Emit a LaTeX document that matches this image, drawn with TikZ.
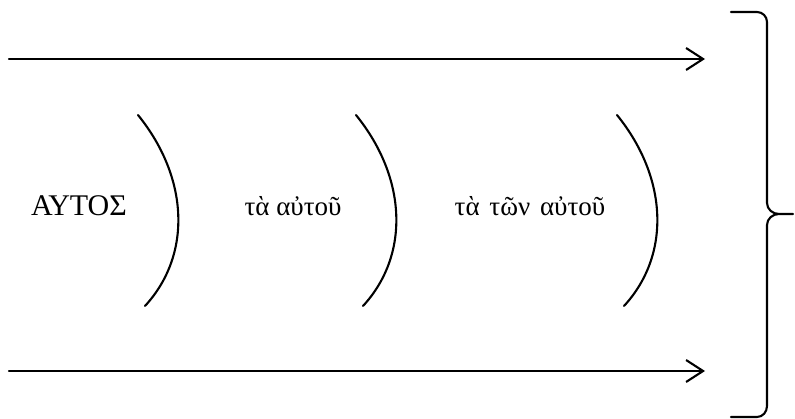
\documentclass[tikz,border=0pt]{standalone}
\usepackage{fontspec}
\setmainfont{Liberation Serif}
\usetikzlibrary{arrows.meta}
\begin{document}
\begin{tikzpicture}[x=1pt,y=-1pt,
  line/.style={line width=2.1pt,line cap=round,line join=round},
  arr/.style={line,-{Straight Barb[length=17pt,width=22pt,line width=2.1pt]}},
  lbl/.style={anchor=base,inner sep=0pt,font=\fontsize{27}{32}\selectfont}]
\useasboundingbox (0,0) rectangle (795,419);
% arrows
\coordinate (t1) at (9,59);
\coordinate (t2) at (705,59);
\coordinate (b1) at (9,371);
\coordinate (b2) at (705,371);
\draw[arr] (t1) -- (t2);
\draw[arr] (b1) -- (b2);
% labels
\node[lbl,font=\fontsize{30}{34}\selectfont] (autos) at (79,216) {ΑΥΤΟΣ};
\node[lbl] (ta) at (293,216) {τὰ αὐτοῦ};
\node[lbl] (taton) at (530,216) {τὰ\hspace{3pt} τῶν\hspace{3pt} αὐτοῦ};
% parentheses
\draw[line] (138,115) .. controls (189,178) and (192,255) .. (145,306);
\draw[line] (356,115) .. controls (407,178) and (410,255) .. (363,306);
\draw[line] (617,115) .. controls (668,178) and (671,255) .. (624,306);
% brace
\draw[line] (731,12) -- (757,12) to[out=0,in=90] (767,22) -- (767,203)
  to[out=-90,in=180] (779,214) -- (793,214) -- (779,214)
  to[out=180,in=90] (767,225) -- (767,406) to[out=-90,in=0] (757,417) -- (731,417);
\end{tikzpicture}
\end{document}
